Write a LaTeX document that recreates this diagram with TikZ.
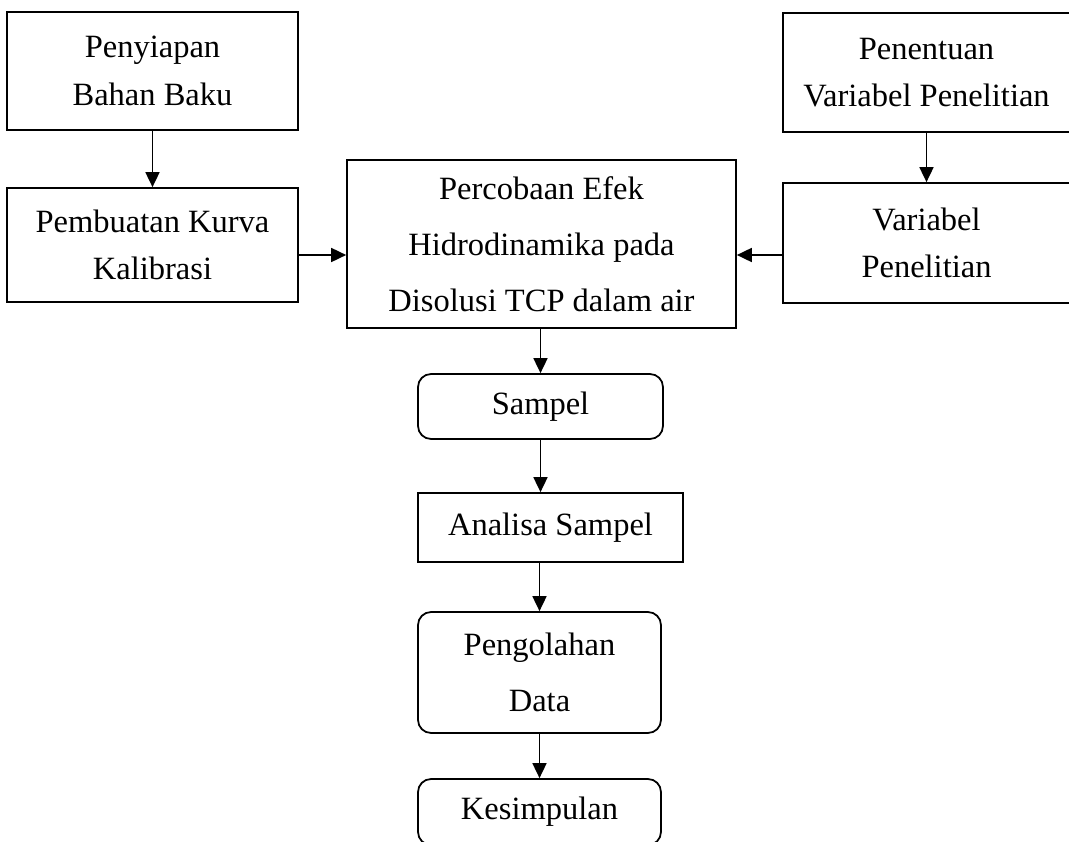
\documentclass[tikz,border=0pt]{standalone}
\usepackage{fontspec}
\setmainfont{Liberation Serif}
\usepackage{tikz}
\usetikzlibrary{arrows.meta,positioning,calc}
\tikzstyle{line} = [draw, line width=1pt, -{Triangle[length=0.3cm,width=0.28cm]}]
\tikzstyle{box} = [draw, line width=1pt, align=center, inner sep=0pt, font=\fontsize{18.5}{27}\selectfont]
\tikzstyle{rbox} = [box, rounded corners=0.26cm]

\begin{document}
\begin{tikzpicture}[x=0.02cm,y=-0.02cm]
		\useasboundingbox (0,0) rectangle (1069,842); %picture frame
		
		% left column
		\node[box, minimum width=5.82cm, minimum height=2.36cm] (bahan) at (152.5,71) {Penyiapan\\Bahan Baku}; % first box
		\node[box, minimum width=5.82cm, minimum height=2.28cm] (kurva) at (152.5,245) {Pembuatan Kurva\\Kalibrasi};
		
		% right column
		\node[box, minimum width=5.74cm, minimum height=2.38cm] (penentuan) at (926.5,72.5) {Penentuan\\Variabel Penelitian};
		\node[box, minimum width=5.74cm, minimum height=2.40cm] (variabel) at (926.5,243) {Variabel\\Penelitian};
		
		% middle column
		\node[box, minimum width=7.78cm, minimum height=3.36cm, font=\fontsize{18.5}{32}\selectfont] (percobaan) at (541.5,244) {Percobaan Efek\\Hidrodinamika pada\\Disolusi TCP dalam air};
		\node[rbox, minimum width=4.90cm, minimum height=1.30cm] (sampel) at (540.5,406.5) {Sampel};
		\node[box, minimum width=5.30cm, minimum height=1.38cm] (analisa) at (550.5,527.5) {Analisa Sampel};
		\node[rbox, minimum width=4.86cm, minimum height=2.42cm, font=\fontsize{18.5}{32}\selectfont] (olah) at (539.5,672.5) {Pengolahan\\Data};
		\node[rbox, minimum width=4.86cm, minimum height=1.32cm] (simpul) at (539.5,812) {Kesimpulan};
		
		% arrows
		\draw[line] (bahan) -- (kurva);
		\draw[line] (penentuan) -- (variabel);
		\draw[line] ([yshift=-0.2cm]kurva.east) -- ([yshift=-0.2cm]kurva.east -| percobaan.west); %into middle box
		\draw[line] ([yshift=-0.24cm]variabel.west) -- ([yshift=-0.24cm]variabel.west -| percobaan.east);
		\draw[line] (percobaan.south -| sampel.north) -- (sampel.north);
		\draw[line] (sampel.south) -- (sampel.south |- analisa.north);
		\draw[line] (olah.north |- analisa.south) -- (olah.north);
		\draw[line] (olah.south) -- (simpul.north);
		
\end{tikzpicture}
\end{document}
